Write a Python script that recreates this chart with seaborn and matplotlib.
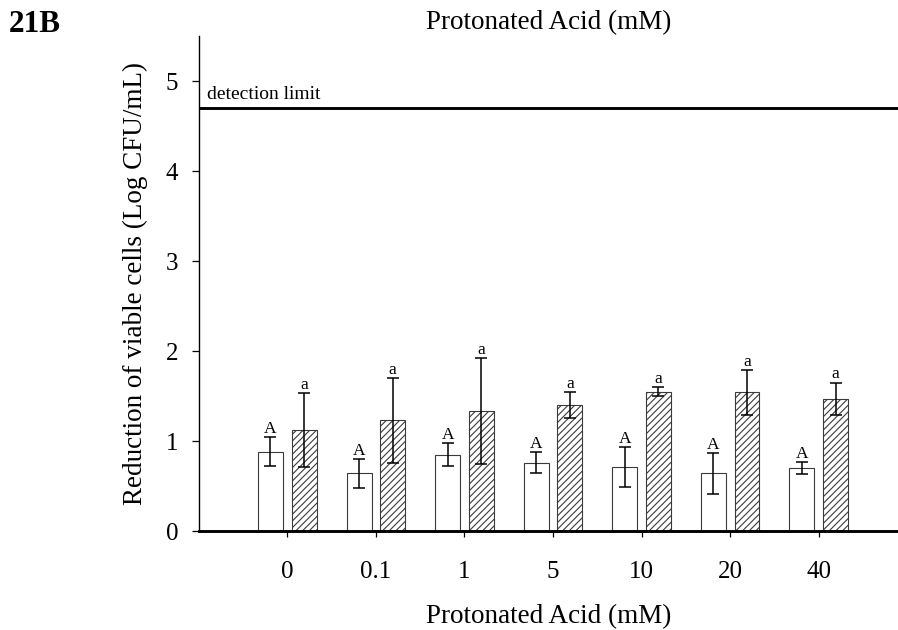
import matplotlib
matplotlib.use("Agg")
import matplotlib.pyplot as plt
import matplotlib.transforms as mtransforms
import numpy as np
import pandas as pd
import seaborn as sns

# Reduction of viable cells (log CFU/mL) for each protonated acid concentration
concentrations = ["0", "0.1", "1", "5", "10", "20", "40"]
groups = ["Treatment 1", "Treatment 2"]

open_means = [0.88, 0.64, 0.85, 0.76, 0.71, 0.64, 0.70]
open_sd = [0.16, 0.165, 0.125, 0.12, 0.22, 0.225, 0.07]
open_letters = ["A", "A", "A", "A", "A", "A", "A"]

hatched_means = [1.12, 1.23, 1.33, 1.40, 1.55, 1.54, 1.47]
hatched_sd = [0.41, 0.47, 0.59, 0.14, 0.05, 0.25, 0.18]
hatched_letters = ["a", "a", "a", "a", "a", "a", "a"]

detection_limit = 4.7
y_ticks = [0, 1, 2, 3, 4, 5]

df = pd.DataFrame({
    "concentration": concentrations * 2,
    "group": [groups[0]] * len(concentrations) + [groups[1]] * len(concentrations),
    "reduction": open_means + hatched_means,
})

sns.set_theme(style="ticks")
plt.rcParams["font.family"] = ["Liberation Serif", "DejaVu Serif"]
plt.rcParams["hatch.linewidth"] = 0.8

fig = plt.figure(figsize=(8.98, 6.30), dpi=100)
ax = fig.add_axes([199 / 898, 1 - 531 / 630, 699 / 898, 495 / 630])

sns.barplot(
    data=df, x="concentration", y="reduction", hue="group",
    order=concentrations, hue_order=groups,
    palette=["white", "white"], saturation=1,
    width=0.76, gap=0.26, errorbar=None, legend=False,
    edgecolor="#3a3a3a", linewidth=0.8, ax=ax,
)

# hatch the second group's bars
for bar in ax.containers[1]:
    bar.set_hatch("/////")

series = [
    (ax.containers[0], open_means, open_sd, open_letters),
    (ax.containers[1], hatched_means, hatched_sd, hatched_letters),
]
for container, means, sds, letters in series:
    xs = [b.get_x() + b.get_width() / 2 for b in container]
    ax.errorbar(xs, means, yerr=sds, fmt="none", ecolor="black",
                elinewidth=1.1, capsize=4.6, capthick=1.1, zorder=5)
    for x, m, s, letter in zip(xs, means, sds, letters):
        ax.annotate(letter, xy=(x, m + s), xytext=(0, 0),
                    textcoords="offset points", ha="center", va="bottom",
                    fontsize=12.5, color="black")

# detection limit line and label
ax.axhline(detection_limit, color="black", linewidth=2.1, zorder=4)
blend = mtransforms.blended_transform_factory(ax.transAxes, ax.transData)
ax.annotate("detection limit", xy=(0, detection_limit), xycoords=blend,
            xytext=(5.8, 6.3), textcoords="offset points",
            ha="left", va="baseline", fontsize=14, color="black")

ax.set_xlim(-0.997, 6.895)
ax.set_ylim(0, 5.5)
ax.set_yticks(y_ticks)
ax.set_yticklabels([str(t) for t in y_ticks])

ax.spines["top"].set_visible(False)
ax.spines["right"].set_visible(False)
ax.spines["left"].set_linewidth(1.0)
ax.spines["bottom"].set_linewidth(2.1)
for s in ("left", "bottom"):
    ax.spines[s].set_color("black")

ax.tick_params(axis="y", direction="out", length=5, width=0.9,
               pad=10, labelsize=18, colors="black")
ax.tick_params(axis="x", direction="out", length=4.5, width=0.9,
               pad=17, labelsize=18, colors="black")

ax.set_xlabel("Protonated Acid (mM)", fontsize=19.5, labelpad=15, color="black")
ax.set_ylabel("Reduction of viable cells (Log CFU/mL)", fontsize=19.5,
              labelpad=13, color="black")
ax.set_title("Protonated Acid (mM)", fontsize=19.5, pad=5, color="black")

fig.text(9 / 898, 1 - 31.7 / 630, "21B", fontsize=22.5, fontweight="bold",
         ha="left", va="baseline", color="black")

fig.savefig("out.png", dpi=100)
